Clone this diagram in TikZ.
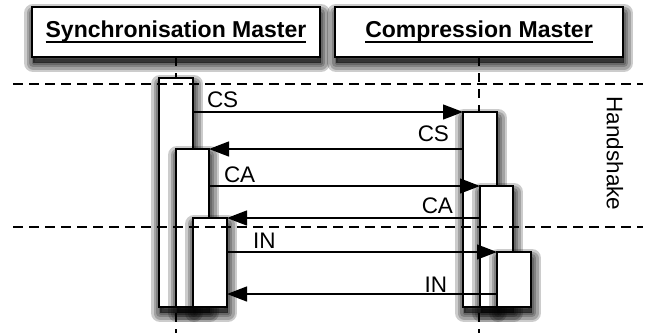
\documentclass[tikz,border=0pt]{standalone}
\usepackage{fontspec}
\setmainfont{Liberation Sans}
\usetikzlibrary{arrows.meta}
\newcommand\headline[1]{\setbox0\hbox{#1}\rlap{\rule[-5.6pt]{\wd0}{2pt}}\box0}

\begin{document}
\begin{tikzpicture}[x=1pt, y=-1pt,
    every node/.style={inner sep=0pt, outer sep=0pt},
    shadowlayer/.style={preaction={draw=black, fill=black, line width=#1, opacity=.2, line join=round, transform canvas={shift={(1pt,-6pt)}}}},
    boxshadow/.style={shadowlayer=18pt, shadowlayer=13pt, shadowlayer=8pt, shadowlayer=3pt},
    header/.style={draw, line width=1.5pt, fill=white, anchor=north west, minimum width=288pt, minimum height=50pt, font=\fontsize{23}{26}\selectfont\bfseries, boxshadow},
    activation/.style={draw, line width=1.3pt, fill=white, anchor=north west, boxshadow},
    lifeline/.style={line width=1.3pt, dash pattern=on 9pt off 7pt},
    phase/.style={line width=1.3pt, dash pattern=on 9.5pt off 6.5pt},
    message/.style={line width=1.3pt, -{Triangle[length=20pt,width=15pt]}},
    msglabel/.style={font=\fontsize{22.5}{26}\selectfont}]
    \useasboundingbox (0,0) rectangle (655,333);
    \coordinate (bot) at (0,333);
    \node[header] (sm) at (32,7) {\headline{Synchronisation Master}};
    \node[header] (cm) at (335,7) {\headline{Compression Master}};
    \draw[lifeline] (sm.south) -- (sm.south |- bot);
    \draw[lifeline] (cm.south) -- (cm.south |- bot);

    \node[activation, minimum width=34pt, minimum height=229pt] (s1) at (159,78) {};
    \node[activation, minimum width=33pt, minimum height=158pt] (s2) at (176,149) {};
    \node[activation, minimum width=34pt, minimum height=89pt] (s3) at (193,218) {};
    \node[activation, minimum width=34pt, minimum height=195pt] (c1) at (463,112) {};
    \node[activation, minimum width=33pt, minimum height=121pt] (c2) at (480,186) {};
    \node[activation, minimum width=34pt, minimum height=55pt] (c3) at (497,252) {};

    \draw[message] (s1.east |- c1.north) -- node[msglabel, at start, anchor=base west, xshift=14pt, yshift=5pt] {CS} (c1.north west);
    \draw[message] (c1.west |- s2.north) -- node[msglabel, at start, anchor=base east, xshift=-14pt, yshift=8pt] {CS} (s2.north east);
    \draw[message] (s2.east |- c2.north) -- node[msglabel, at start, anchor=base west, xshift=15pt, yshift=4pt] {CA} (c2.north west);
    \draw[message] (c2.west |- s3.north) -- node[msglabel, at start, anchor=base east, xshift=-27pt, yshift=5pt] {CA} (s3.north east);
    \draw[message] (s3.east |- c3.north) -- node[msglabel, at start, anchor=base west, xshift=26pt, yshift=4pt] {IN} (c3.north west);
    \coordinate (inback) at (497,294);
    \draw[message] (inback) -- node[msglabel, at start, anchor=base east, xshift=-50pt, yshift=2pt] {IN} (s3.east |- inback);

    \coordinate (hs1) at (13,84);
    \coordinate (hs2) at (13,227);
    \draw[phase] (hs1) -- (hs1 -| 643,0);
    \draw[phase] (hs2) -- (hs2 -| 643,0);
    \node[msglabel, rotate=-90] (hs) at (615,153.5) {Handshake};
\end{tikzpicture}
\end{document}
